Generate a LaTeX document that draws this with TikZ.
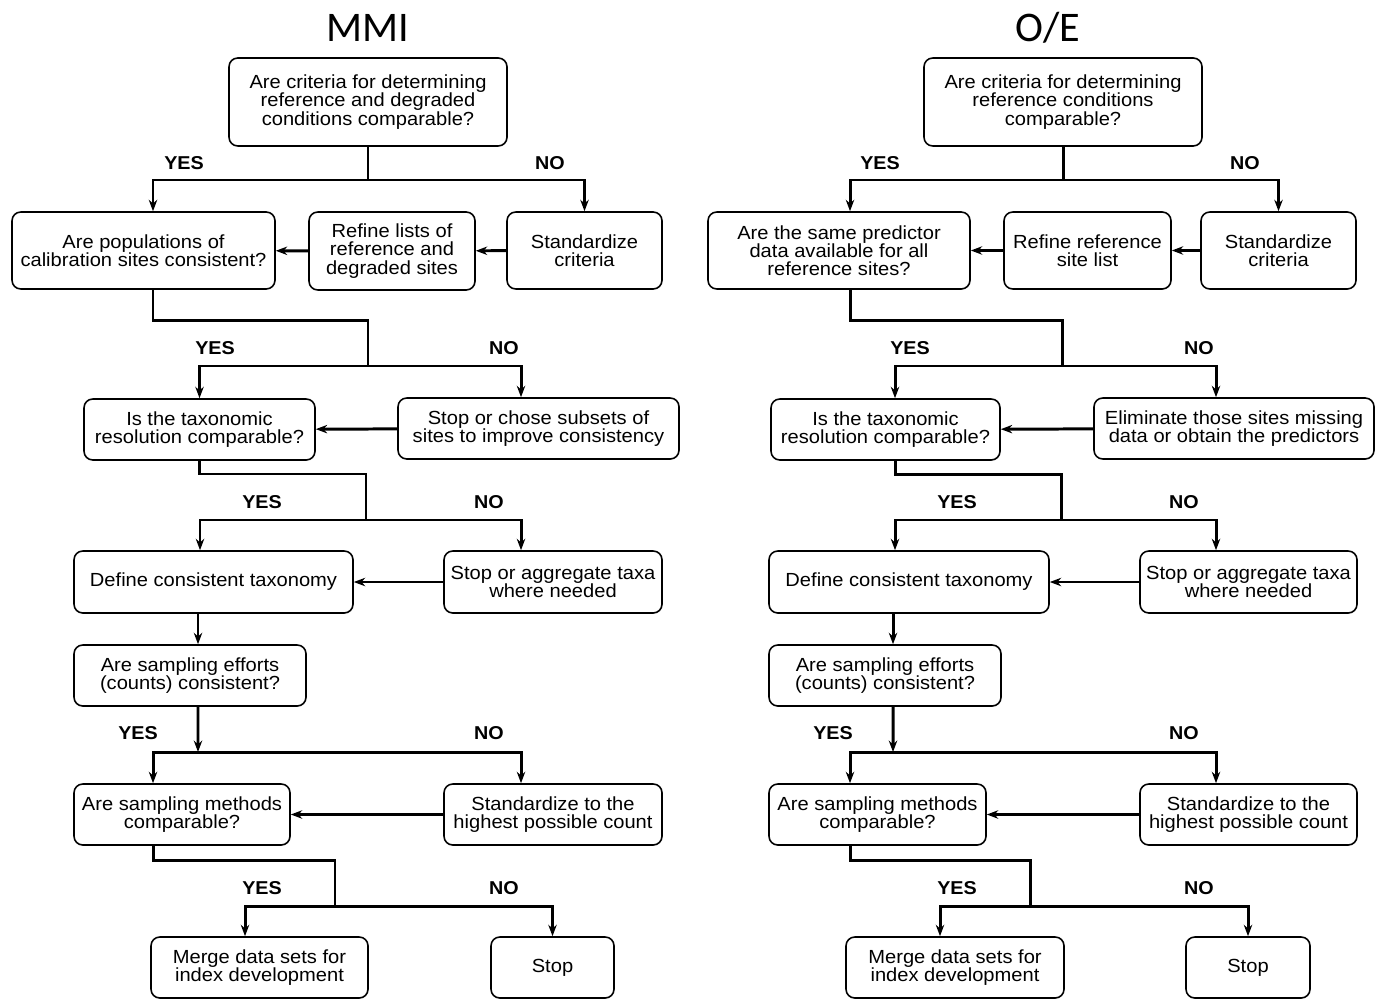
\documentclass[tikz,border=0pt]{standalone}
\usepackage{fontspec}
\setmainfont{Liberation Sans}[FakeStretch=1.06]
\newfontfamily\titlefont{Carlito}
\usetikzlibrary{arrows.meta}

\tikzset{
    qbox/.style={draw,rounded corners=5pt,line width=0.9pt,align=center,
                 inner sep=0pt,font=\fontsize{10.8}{10.4}\selectfont},
    boxsize/.style 2 args={minimum width=#1*0.02cm,minimum height=#2*0.02cm},
    answer/.style={font=\fontsize{10.6}{10.4}\selectfont\bfseries},
    heading/.style={font=\titlefont\fontsize{24}{28}\selectfont},
    flow/.style={line width=1.7pt}
}

\begin{document}
\begin{tikzpicture}[x=0.02cm,y=-0.02cm]
\useasboundingbox (0,0) rectangle (1382,1000);
\node[heading] (tA) at (368,28) {MMI};
\node[heading] (tB) at (1048,28) {O/E};
% MMI chart
\begin{scope}[every node/.style={qbox}]
    \node[boxsize={278}{88}] (A1) at (368,102) {Are criteria for determining\\reference and degraded\\conditions comparable?};
    \node[boxsize={263}{77}] (A2) at (143.5,250.5) {Are populations of\\calibration sites consistent?};
    \node[boxsize={166}{78}] (A3) at (392,251) {Refine lists of\\reference and\\degraded sites};
    \node[boxsize={155}{77}] (A4) at (584.5,250.5) {Standardize\\criteria};
    \node[boxsize={231}{61}] (A5) at (199.5,429.5) {Is the taxonomic\\resolution comparable?};
    \node[boxsize={281}{61}] (A6) at (538.5,428.5) {Stop or chose subsets of\\sites to improve consistency};
    \node[boxsize={279}{62}] (A7) at (213.5,582) {Define consistent taxonomy};
    \node[boxsize={218}{62}] (A8) at (553,582) {Stop or aggregate taxa\\where needed};
    \node[boxsize={232}{61}] (A9) at (190,675.5) {Are sampling efforts\\(counts) consistent?};
    \node[boxsize={216}{61}] (A10) at (182,814.5) {Are sampling methods\\comparable?};
    \node[boxsize={218}{61}] (A11) at (553,814.5) {Standardize to the\\highest possible count};
    \node[boxsize={217}{61}] (A12) at (259.5,967.5) {Merge data sets for\\index development};
    \node[boxsize={123}{61}] (A13) at (552.5,967.5) {Stop};
\end{scope}
% O/E chart
\begin{scope}[every node/.style={qbox}]
    \node[boxsize={278}{88}] (B1) at (1063,102) {Are criteria for determining\\reference conditions\\comparable?};
    \node[boxsize={262}{77}] (B2) at (839,250.5) {Are the same predictor\\data available for all\\reference sites?};
    \node[boxsize={167}{77}] (B3) at (1087.5,250.5) {Refine reference\\site list};
    \node[boxsize={155}{77}] (B4) at (1278.5,250.5) {Standardize\\criteria};
    \node[boxsize={229}{61}] (B5) at (885.5,429.5) {Is the taxonomic\\resolution comparable?};
    \node[boxsize={280}{61}] (B6) at (1234,428.5) {Eliminate those sites missing\\data or obtain the predictors};
    \node[boxsize={280}{62}] (B7) at (909,582) {Define consistent taxonomy};
    \node[boxsize={217}{62}] (B8) at (1248.5,582) {Stop or aggregate taxa\\where needed};
    \node[boxsize={232}{61}] (B9) at (885,675.5) {Are sampling efforts\\(counts) consistent?};
    \node[boxsize={217}{61}] (B10) at (877.5,814.5) {Are sampling methods\\comparable?};
    \node[boxsize={217}{61}] (B11) at (1248.5,814.5) {Standardize to the\\highest possible count};
    \node[boxsize={218}{61}] (B12) at (955,967.5) {Merge data sets for\\index development};
    \node[boxsize={124}{61}] (B13) at (1248,967.5) {Stop};
\end{scope}
% YES / NO labels
\foreach \x/\y/\t [count=\i] in {184/163/YES,550/163/NO,215/348/YES,504/348/NO,
        262/502/YES,489/502/NO,138/733/YES,489/733/NO,262/888/YES,504/888/NO,
        880/163/YES,1245/163/NO,910/348/YES,1199/348/NO,957/502/YES,1184/502/NO,
        833/733/YES,1184/733/NO,957/888/YES,1199/888/NO}
    \node[answer] (ans\i) at (\x,\y) {\t};
% branch points
\coordinate (jA1) at (368,180);
\coordinate (jA2) at (368,366);
\coordinate (jA3) at (366,520);
\coordinate (jA4) at (198,752);
\coordinate (jA5) at (335,906);
\coordinate (jB1) at (1063,180);
\coordinate (jB2) at (1062,366);
\coordinate (jB3) at (1061,520);
\coordinate (jB4) at (893,752);
\coordinate (jB5) at (1030,906);
\begin{scope}[>={Stealth[length=6.5pt,width=4.8pt]}]
    % MMI
    \draw[flow] (A1) -- (jA1);
    \draw[flow,->] (jA1) -| ([xshift=0.19cm]A2.north);
    \draw[flow,->] (jA1) -| (A4);
    \draw[flow,->] (A4) -- (A3);
    \draw[flow,->] (A3) -- (A2);
    \draw[flow] ([xshift=0.19cm]A2.south) -- ++(0,31) -| (jA2);
    \draw[flow,->] (jA2) -| (A5);
    \draw[flow,->] (jA2) -| ([xshift=-0.35cm]A6.north);
    \draw[flow,->] (A6) -- (A5);
    \draw[flow] (A5) -- ++(0,44.5) -| (jA3);
    \draw[flow,->] (jA3) -| ([xshift=-0.27cm]A7.north);
    \draw[flow,->] (jA3) -| ([xshift=-0.64cm]A8.north);
    \draw[flow,->] (A8) -- (A7);
    \draw[flow,->] ([xshift=-0.31cm]A7.south) -- ([xshift=-0.31cm]A7.south |- A9.north);
    \draw[flow,->] ([xshift=0.16cm]A9.south) -- (jA4);
    \draw[flow,->] (jA4) -| ([xshift=-0.58cm]A10.north);
    \draw[flow,->] (jA4) -| ([xshift=-0.64cm]A11.north);
    \draw[flow,->] (A11) -- (A10);
    \draw[flow] ([xshift=-0.58cm]A10.south) -- ++(0,15) -| (jA5);
    \draw[flow,->] (jA5) -| ([xshift=-0.29cm]A12.north);
    \draw[flow,->] (jA5) -| (A13);
    % O/E
    \draw[flow] (B1) -- (jB1);
    \draw[flow,->] (jB1) -| ([xshift=0.22cm]B2.north);
    \draw[flow,->] (jB1) -| (B4);
    \draw[flow,->] (B4) -- (B3);
    \draw[flow,->] (B3) -- (B2);
    \draw[flow] ([xshift=0.22cm]B2.south) -- ++(0,31) -| (jB2);
    \draw[flow,->] (jB2) -| ([xshift=0.19cm]B5.north);
    \draw[flow,->] (jB2) -| ([xshift=-0.36cm]B6.north);
    \draw[flow,->] (B6) -- (B5);
    \draw[flow] ([xshift=0.19cm]B5.south) -- ++(0,14) -| (jB3);
    \draw[flow,->] (jB3) -| ([xshift=-0.28cm]B7.north);
    \draw[flow,->] (jB3) -| ([xshift=-0.65cm]B8.north);
    \draw[flow,->] (B8) -- (B7);
    \draw[flow,->] ([xshift=-0.32cm]B7.south) -- ([xshift=-0.32cm]B7.south |- B9.north);
    \draw[flow,->] ([xshift=0.16cm]B9.south) -- (jB4);
    \draw[flow,->] (jB4) -| ([xshift=-0.55cm]B10.north);
    \draw[flow,->] (jB4) -| ([xshift=-0.65cm]B11.north);
    \draw[flow,->] (B11) -- (B10);
    \draw[flow] ([xshift=-0.55cm]B10.south) -- ++(0,15) -| (jB5);
    \draw[flow,->] (jB5) -| ([xshift=-0.30cm]B12.north);
    \draw[flow,->] (jB5) -| (B13);
\end{scope}
\end{tikzpicture}
\end{document}
